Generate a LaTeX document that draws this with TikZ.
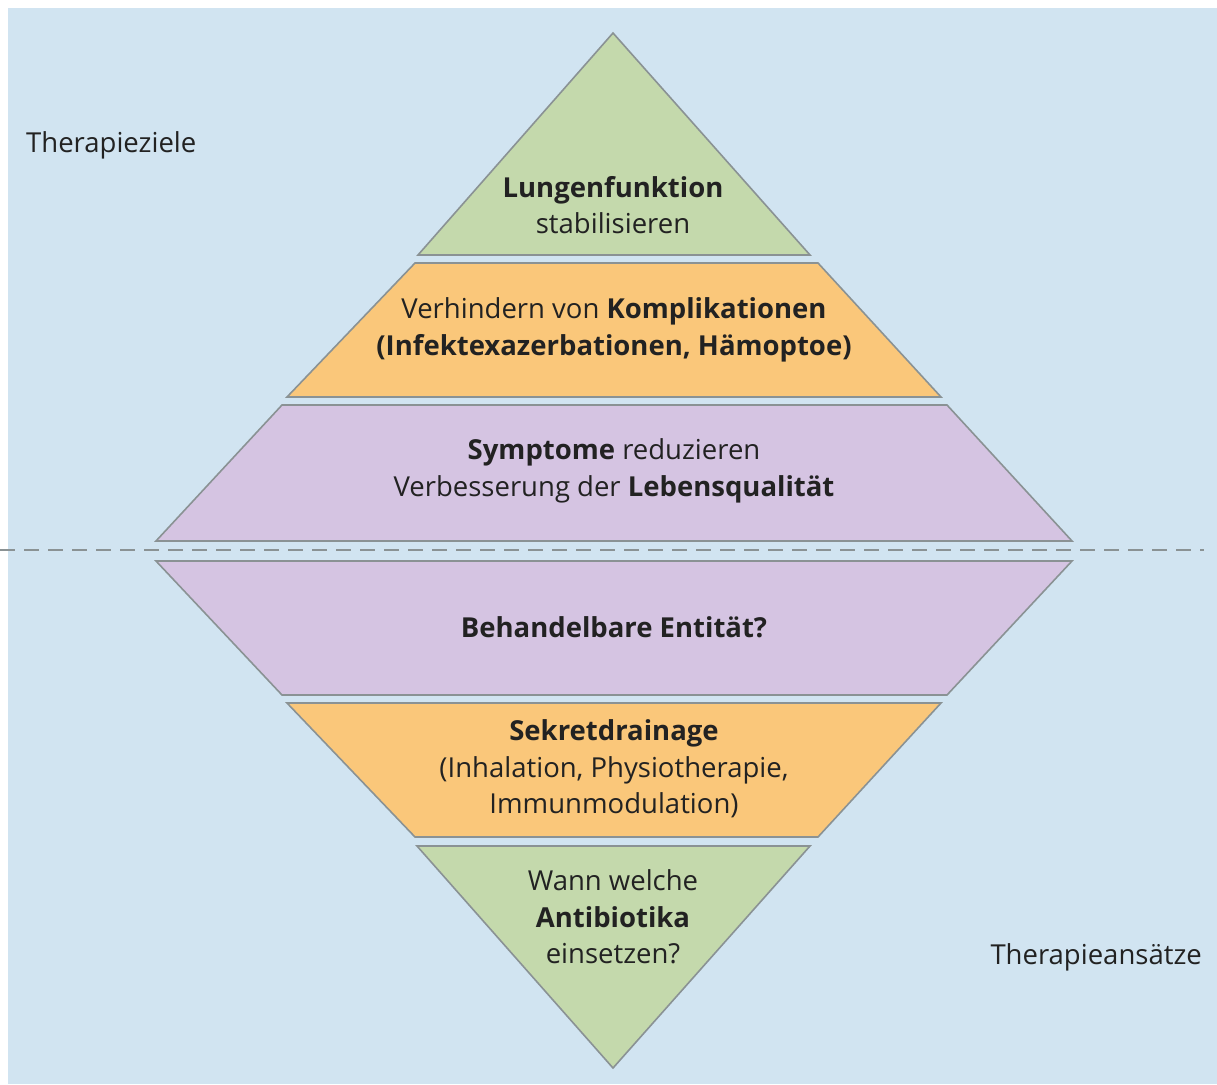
\documentclass[tikz,border=0pt]{standalone}
\usepackage{fontspec}
\setmainfont{Open Sans}
\definecolor{bgblue}{HTML}{D1E4F1}
\definecolor{lgreen}{HTML}{C4D9AC}
\definecolor{lorange}{HTML}{FAC77A}
\definecolor{lpurple}{HTML}{D5C4E2}
\definecolor{edgegray}{HTML}{8A9294}
\definecolor{txt}{HTML}{222222}
\tikzset{
  layer/.style={draw=edgegray, line width=1.6pt, line join=miter},
  lbl/.style={text=txt, align=center, font=\fontsize{27.5}{36.5}\selectfont, inner sep=0pt},
  side/.style={text=txt, font=\fontsize{27.5}{30}\selectfont, inner sep=0pt},
}
\begin{document}
\begin{tikzpicture}[x=1pt,y=-1pt]
\useasboundingbox (0,0) rectangle (1217,1084);
\fill[white] (0,0) rectangle (1217,1084);
\fill[bgblue] (8,8) rectangle (1217,1084);
% upper part
\path[layer, fill=lgreen] (613,33) -- (810,255) -- (418,255) -- cycle;
\path[layer, fill=lorange] (415,263) -- (818,263) -- (941,397) -- (287,397) -- cycle;
\path[layer, fill=lpurple] (282,405) -- (947,405) -- (1072,541) -- (156,541) -- cycle;
% dashed separator
\draw[edgegray, line width=2.6pt, dash pattern=on 15pt off 9pt] (0,550) -- (1204,550);
% lower part
\path[layer, fill=lpurple] (156,561) -- (1072,561) -- (947,695) -- (282,695) -- cycle;
\path[layer, fill=lorange] (287,703) -- (941,703) -- (818,837) -- (415,837) -- cycle;
\path[layer, fill=lgreen] (417,846) -- (810,846) -- (613,1068) -- cycle;
% texts
\node[side, anchor=west] (ziele) at (26,145) {Therapieziele};
\node[side, anchor=east] (ansaetze) at (1202,957) {Therapieansätze};
\node[lbl] (t1) at (613,205) {\textbf{Lungenfunktion}\\stabilisieren};
\node[lbl] (t2) at (614,330) {Verhindern von \textbf{Komplikationen}\\\textbf{(Infektexazerbationen, Hämoptoe)}};
\node[lbl] (t3) at (614,471) {\textbf{Symptome} reduzieren\\Verbesserung der \textbf{Lebensqualität}};
\node[lbl] (b3) at (614,627) {\textbf{Behandelbare Entität?}};
\node[lbl] (b2) at (614,769) {\textbf{Sekretdrainage}\\(Inhalation, Physiotherapie,\\Immunmodulation)};
\node[lbl] (b1) at (613,917) {Wann welche\\\textbf{Antibiotika}\\einsetzen?};
\end{tikzpicture}
\end{document}
